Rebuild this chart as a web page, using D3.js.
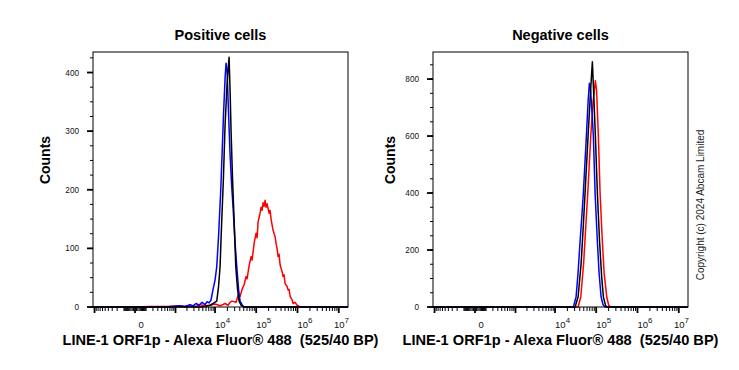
<!DOCTYPE html>
<html>
<head>
<meta charset="utf-8">
<script src="https://cdn.jsdelivr.net/npm/d3@7"></script>
<style>
  body { margin: 0; background: #fff; }
  svg { display: block; font-family: "Liberation Sans", Arial, sans-serif; }
</style>
</head>
<body>
<svg id="chart" width="739" height="370"></svg>
<script>
// histogram data: [fluorescence, counts]
var posRed = [[-1100,0],[0,0],[153,1],[707,1],[1321,2],[1783,1],[2394,3],[3392,1],[4269,4],[5680,2],[7542,3],[10000,5],
  [13260,2],[17560,6],[20780,3],[23240,8],[25890,10],[32520,8],[36380,20],[40680,18],[45500,30],[50860,38],[56880,52],
  [60150,48],[67250,70],[75210,86],[79520,80],[88910,108],[99420,126],[105120,118],[111150,145],[124280,160],[131390,170],
  [138940,165],[146910,178],[155330,172],[164230,182],[173640,170],[183610,176],[194160,168],[205280,160],[217050,165],
  [229470,150],[242660,140],[256580,131],[286970,120],[303420,108],[320800,100],[339190,86],[358630,90],[379200,72],
  [423930,60],[448240,52],[473980,55],[501160,40],[560320,35],[592420,29],[626370,30],[662260,18],[740560,12],[783020,6],
  [875270,8],[978280,3],[1156760,0],[1.67e7,0]];
var posBlue = [[-1100,0],[500,0],[707,1],[1321,2],[1783,1],[2394,4],[2851,2],[3392,6],[4031,3],[4786,8],[5680,4],[6364,9],
  [7128,7],[7982,12],[8934,30],[10000,46],[11010,69],[12180,120],[13790,200],[14840,260],[16140,330],[17560,390],[18570,416],
  [19640,405],[21360,330],[23240,260],[25270,210],[27500,170],[30750,110],[33830,69],[37420,30],[40680,10],[48100,1],
  [67250,0],[1.67e7,0]];
var posBlack = [[-1100,0],[4269,0],[5680,1],[7542,3],[8934,6],[11010,10],[12180,35],[13260,69],[14430,140],[15960,217],
  [17560,310],[19640,380],[21970,426],[23240,370],[24580,300],[26730,217],[29070,150],[31970,69],[35370,30],[38470,10],
  [43020,3],[50860,0],[1.67e7,0]];

var negRed = [[-1100,0],[36380,0],[42310,35],[49470,150],[55320,270],[62540,400],[73940,600],[84060,720],[95590,794],
  [102220,760],[113050,600],[124280,400],[138940,250],[155330,120],[180540,35],[199710,8],[217050,0],[1.67e7,0]];
var negBlue = [[-1100,0],[27950,0],[32520,35],[36380,120],[40680,230],[45500,330],[48880,400],[57860,600],[63590,720],
  [68460,785],[73200,760],[79520,680],[85420,600],[94110,400],[105120,250],[117420,120],[131390,35],[146910,8],
  [164230,0],[1.67e7,0]];
var negBlack = [[-1100,0],[30750,0],[36380,35],[43020,150],[48100,270],[53770,400],[63590,600],[73200,760],[80860,861],
  [86460,760],[95590,600],[106890,400],[120850,230],[135110,110],[149380,35],[168910,5],[183610,0],[1.67e7,0]];

var seriesColors = ['#ff0000', '#0000ff', '#000000'];

var xMajorTicks = [-1000, 0, 1000, 1e4, 1e5, 1e6, 1e7];
var xLabelExps = [4, 5, 6, 7];

var posYTicks = [0, 100, 200, 300, 400];
var negYTicks = [0, 200, 400, 600, 800];

var xTitle = 'LINE-1 ORF1p - Alexa Fluor\u00ae 488  (525/40 BP)';

(function() {
  var svg = d3.select('#chart');
  svg.append('rect').attr('width', 739).attr('height', 370).attr('fill', '#fff');

  // minor ticks for the x axis: 2..9 per decade, both sides of zero
  var xMinorTicks = [];
  [100, 1000, 10000, 100000, 1000000].forEach(function(p) {
    for (var k = 2; k <= 9; k++) {
      xMinorTicks.push(k * p);
      if (p < 1000) xMinorTicks.push(-k * p);
    }
  });
  [10, 20, 30, 40, 50, 60, 70, 80, 90, 100].forEach(function(v) {
    xMinorTicks.push(v, -v);
  });

  var panels = [
    { title: 'Positive cells', left: 93, counts: 45, series: [posRed, posBlue, posBlack],
      yMax: 435, yTicks: posYTicks, yMinor: d3.range(0, 426, 25) },
    { title: 'Negative cells', left: 433, counts: 390, series: [negRed, negBlue, negBlack],
      yMax: 895, yTicks: negYTicks, yMinor: d3.range(0, 851, 50) }
  ];

  var plotTop = 52, plotBottom = 307, w = 255;

  panels.forEach(function(p) {
    var g = svg.append('g').attr('transform', 'translate(' + p.left + ',' + plotTop + ')');
    var h = plotBottom - plotTop;

    var x = d3.scaleSymlog().constant(117).domain([-1100, 1.67e7]).range([0, w]);
    var y = d3.scaleLinear().domain([0, p.yMax]).range([h, 0]);

    // curves
    var line = d3.line()
      .x(function(d) { return x(d[0]); })
      .y(function(d) { return y(d[1]); });

    p.series.forEach(function(s, i) {
      g.append('path')
        .datum(s)
        .attr('d', line)
        .attr('fill', 'none')
        .attr('stroke', seriesColors[i])
        .attr('stroke-width', 1.5)
        .attr('stroke-linejoin', 'round');
    });

    // frame
    g.append('rect')
      .attr('width', w).attr('height', h)
      .attr('fill', 'none').attr('stroke', '#000').attr('stroke-width', 1);

    // y axis
    g.selectAll('.yminor').data(p.yMinor).enter().append('line')
      .attr('x1', -3).attr('x2', 0)
      .attr('y1', function(d) { return y(d); }).attr('y2', function(d) { return y(d); })
      .attr('stroke', '#000');
    g.selectAll('.ymajor').data(p.yTicks).enter().append('line')
      .attr('x1', -6).attr('x2', 0)
      .attr('y1', function(d) { return y(d); }).attr('y2', function(d) { return y(d); })
      .attr('stroke', '#000').attr('stroke-width', 1.8);
    g.selectAll('.ylab').data(p.yTicks).enter().append('text')
      .attr('x', -14).attr('y', function(d) { return y(d) + 3; })
      .attr('text-anchor', 'end').attr('font-size', 8.2).attr('fill', '#111')
      .text(function(d) { return d; });

    // x axis
    g.selectAll('.xminor').data(xMinorTicks).enter().append('line')
      .attr('x1', function(d) { return x(d); }).attr('x2', function(d) { return x(d); })
      .attr('y1', h).attr('y2', h + 4)
      .attr('stroke', '#000');
    g.selectAll('.xmajor').data(xMajorTicks).enter().append('line')
      .attr('x1', function(d) { return x(d); }).attr('x2', function(d) { return x(d); })
      .attr('y1', h).attr('y2', h + 6)
      .attr('stroke', '#000').attr('stroke-width', 1.8);

    g.append('text')
      .attr('x', x(0) + 6).attr('y', h + 21)
      .attr('text-anchor', 'middle').attr('font-size', 9.5).attr('fill', '#111')
      .text('0');
    xLabelExps.forEach(function(e) {
      var t = g.append('text')
        .attr('x', Math.min(x(Math.pow(10, e)), w - 14)).attr('y', h + 21)
        .attr('font-size', 9.5).attr('fill', '#111');
      t.append('tspan').text('10');
      t.append('tspan').attr('dy', -5).attr('font-size', 8).text(e);
    });

    // titles
    g.append('text')
      .attr('x', w / 2).attr('y', -12)
      .attr('text-anchor', 'middle').attr('font-size', 14.5).attr('font-weight', 'bold')
      .text(p.title);
    g.append('text')
      .attr('x', w / 2).attr('y', h + 38)
      .attr('text-anchor', 'middle').attr('font-size', 14.6).attr('font-weight', 'bold')
      .style('white-space', 'pre')
      .text(xTitle);

    svg.append('text')
      .attr('transform', 'translate(' + (p.counts + 5) + ',160) rotate(-90)')
      .attr('text-anchor', 'middle').attr('font-size', 14).attr('font-weight', 'bold')
      .text('Counts');
  });

  svg.append('text')
    .attr('transform', 'translate(704,205) rotate(-90)')
    .attr('text-anchor', 'middle').attr('font-size', 10).attr('fill', '#222')
    .text('Copyright (c) 2024 Abcam Limited');
})();
</script>
</body>
</html>
